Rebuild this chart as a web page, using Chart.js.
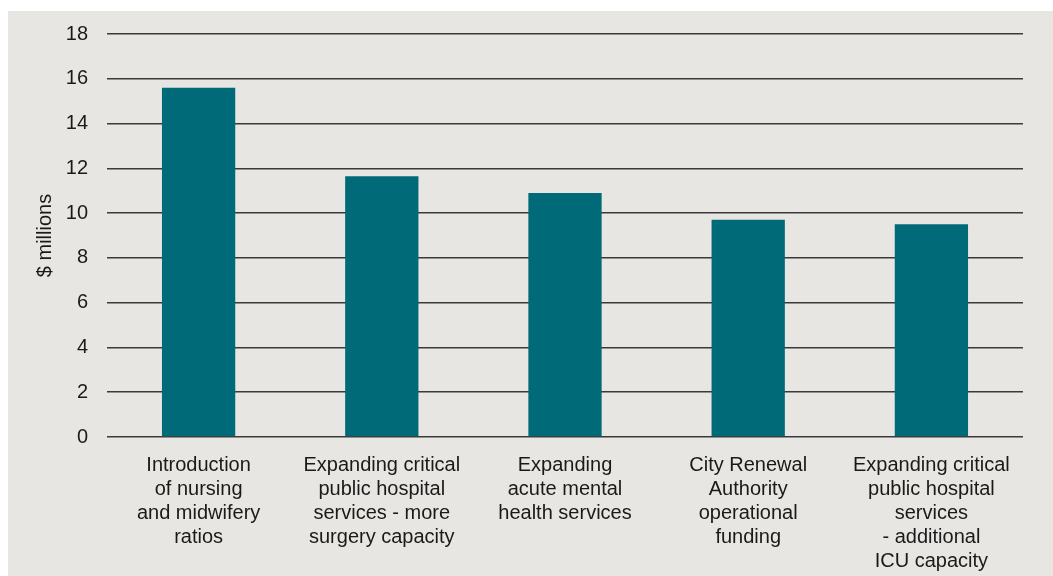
<!DOCTYPE html>
<html>
<head>
<meta charset="utf-8">
<script src="https://cdn.jsdelivr.net/npm/chart.js@4.4.1/dist/chart.umd.min.js"></script>
<style>
    html, body { margin: 0; padding: 0; background: #ffffff; }
    #panel {
        position: absolute;
        left: 8px;
        top: 11px;
        width: 1045px;
        height: 565px;
        background: #e8e6e2;
    }
</style>
</head>
<body>
<div id="panel"><canvas id="chart" width="1045" height="565"></canvas></div>
<script>
// chart data
const categories = [
    ["Introduction", "of nursing", "and midwifery", "ratios"],
    ["Expanding critical", "public hospital", "services - more", "surgery capacity"],
    ["Expanding", "acute mental", "health services"],
    ["City Renewal", "Authority", "operational", "funding"],
    ["Expanding critical", "public hospital", "services", "- additional", "ICU capacity"]
];
const values = [15.6, 11.65, 10.9, 9.7, 9.5];
const yTicks = [0, 2, 4, 6, 8, 10, 12, 14, 16, 18];
const yTitle = "$ millions";

const fontFamily = "'Liberation Sans', Arial, sans-serif";

let canvas = document.getElementById('chart');
let barChart = new Chart(canvas, {
    type: 'bar',
    data: {
        labels: categories,
        datasets: [{
            data: values,
            backgroundColor: '#006a78',
            borderWidth: 0,
            categoryPercentage: 1,
            barPercentage: 0.4
        }]
    },
    options: {
        responsive: false,
        animation: false,
        layout: {
            padding: { top: 23, right: 30, bottom: 0, left: 0 }
        },
        plugins: {
            legend: { display: false },
            tooltip: { enabled: false }
        },
        scales: {
            x: {
                afterFit: function (scale) { scale.height = 139; },
                grid: { display: false, drawTicks: false },
                border: { display: false },
                ticks: {
                    color: '#1a1a1a',
                    font: { family: fontFamily, size: 20, lineHeight: 1.2 },
                    padding: 16,
                    maxRotation: 0,
                    autoSkip: false
                }
            },
            y: {
                min: 0,
                max: 18,
                afterBuildTicks: function (scale) {
                    scale.ticks = yTicks.map(v => ({ value: v }));
                },
                afterFit: function (scale) {
                    scale.width = 99;
                    scale.paddingTop = 0;
                    scale.paddingBottom = 0;
                },
                grid: { color: '#3a3a3a', lineWidth: 1.5, drawTicks: false },
                border: { display: false },
                ticks: {
                    color: '#1a1a1a',
                    font: { family: fontFamily, size: 20 },
                    padding: 19
                },
                title: {
                    display: true,
                    text: yTitle,
                    color: '#1a1a1a',
                    font: { family: fontFamily, size: 20, lineHeight: 1.2 },
                    padding: { top: 25, bottom: 0 }
                }
            }
        }
    }
});
</script>
</body>
</html>
